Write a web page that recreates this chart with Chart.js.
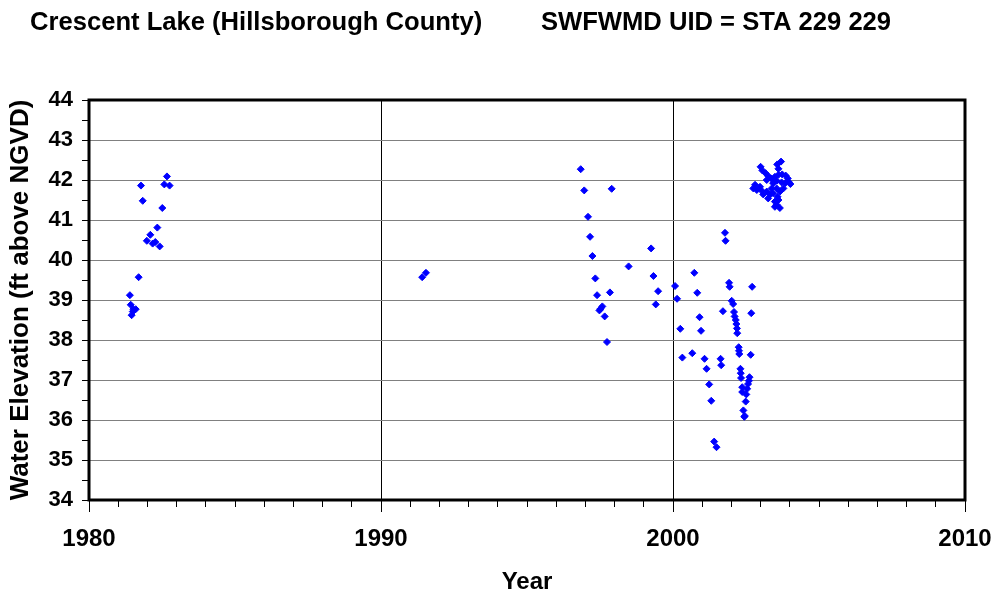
<!DOCTYPE html>
<html>
<head>
<meta charset="utf-8">
<script src="https://cdn.jsdelivr.net/npm/chart.js@4.4.0/dist/chart.umd.min.js"></script>
<style>
  html, body { margin: 0; padding: 0; background: #fff; }
  #wrap { width: 997px; height: 597px; }
</style>
</head>
<body>
<div id="wrap"><canvas id="lakeChart" width="997" height="597"></canvas></div>
<script>
// Crescent Lake water levels
const chartTitle = 'Crescent Lake (Hillsborough County)';
const chartSubtitle = 'SWFWMD UID = STA 229 229';
const xTitle = 'Year';
const yTitle = 'Water Elevation (ft above NGVD)';
const xMin = 1980, xMax = 2010;
const yMin = 34, yMax = 44;

// observation dates (decimal year)
const obsYear = [
    // early 80s
    1982.67, 1981.78, 1982.58, 1982.76, 1981.84, 1982.51, 1982.34, 1982.10, 1981.98, 1982.18,
    1982.27, 1982.42, 1981.70, 1981.40, 1981.43, 1981.52, 1981.60, 1981.50, 1981.46,
    // 1991
    1991.41, 1991.54,
    // late 90s
    1996.84, 1996.96, 1997.90, 1997.09, 1997.16, 1999.25, 1997.24, 1998.48, 1997.34, 1999.33,
    1997.40, 1997.84, 1999.49, 1999.41, 1997.58, 1997.52, 1997.48, 1997.66, 1997.74,
    // 2000 - 2002
    2001.78, 2001.80, 2000.73, 2000.07, 2000.83, 2001.92, 2001.94, 2002.71, 2000.14, 2002.01,
    2002.06, 2001.71, 2002.68, 2002.09, 2002.11, 2000.91, 2002.15, 2002.17, 2002.19, 2000.25,
    2000.96, 2002.20, 2002.25, 2002.26, 2002.27, 2002.66, 2000.32, 2000.66, 2001.08, 2001.63,
    2001.65, 2001.15, 2002.31, 2002.32, 2002.33, 2002.62, 2002.60, 2002.57, 2001.24, 2002.37,
    2002.54, 2002.37, 2002.51, 2001.31, 2002.49, 2002.41, 2002.46, 2002.44, 2001.41, 2001.49,
    // 2003 - 2004
    2003.70, 2003.57, 2003.61, 2003.00, 2003.06, 2003.17, 2003.26, 2003.21, 2003.36, 2003.49,
    2003.61, 2003.74, 2003.86, 2003.93, 2003.95, 2003.84, 2003.72, 2003.55, 2003.43, 2002.81,
    2002.75, 2002.87, 2002.98, 2003.04, 2003.09, 2003.26, 2003.38, 2003.43, 2003.55, 2003.66,
    2003.58, 2003.49, 2003.61, 2003.55, 2003.49, 2003.66, 2003.33, 2003.21, 2003.78, 2004.02
];

// water elevation, ft above NGVD
const obsElev = [
    42.09, 41.86, 41.89, 41.86, 41.48, 41.30, 40.81, 40.63, 40.48, 40.41,
    40.45, 40.34, 39.57, 39.12, 38.88, 38.77, 38.77, 38.71, 38.62,
    39.57, 39.68,
    42.27, 41.74, 41.78, 41.08, 40.58, 40.29, 40.10, 39.84, 39.54, 39.60,
    39.12, 39.19, 39.22, 38.89, 38.84, 38.78, 38.74, 38.59, 37.95,
    40.68, 40.48, 39.68, 39.35, 39.18, 39.43, 39.33, 39.33, 39.03, 38.98,
    38.90, 38.72, 38.67, 38.70, 38.59, 38.57, 38.50, 38.40, 38.29, 38.28,
    38.23, 38.17, 37.82, 37.73, 37.65, 37.63, 37.56, 37.67, 37.53, 37.53,
    37.37, 37.28, 37.28, 37.17, 37.05, 37.07, 36.98, 36.90, 36.89, 36.82,
    36.78, 36.70, 36.64, 36.48, 36.46, 36.24, 36.10, 36.08, 35.46, 35.32,
    42.46, 42.39, 42.28, 42.33, 42.24, 42.17, 42.10, 42.00, 42.04, 42.08,
    42.13, 42.14, 42.11, 42.04, 41.96, 41.92, 41.94, 41.98, 41.92, 41.88,
    41.79, 41.75, 41.83, 41.73, 41.64, 41.54, 41.79, 41.67, 41.79, 41.71,
    41.58, 41.46, 41.50, 41.38, 41.33, 41.30, 41.64, 41.71, 41.79, 41.90
];

const points = obsYear.map((yr, i) => ({ x: yr, y: obsElev[i] }));
const FONT = "'Liberation Sans', Arial, sans-serif";

// frame round the plot, longer decade ticks, and the heading text
const framePlugin = {
    id: 'frame',
    afterDraw(chart) {
        const c = chart.ctx;
        const a = chart.chartArea;
        const xs = chart.scales.x;
        c.save();
        c.strokeStyle = '#000';
        c.lineWidth = 1;
        for (let v = xMin; v <= xMax; v += 10) {
            const px = Math.round(xs.getPixelForValue(v)) + 0.5;
            c.beginPath();
            c.moveTo(px, a.bottom);
            c.lineTo(px, a.bottom + 12);
            c.stroke();
        }
        c.lineWidth = 3;
        c.strokeRect(a.left, a.top, a.right - a.left, a.bottom - a.top);
        c.fillStyle = '#000';
        c.font = 'bold 25.6px ' + FONT;
        c.textBaseline = 'alphabetic';
        c.textAlign = 'left';
        c.fillText(chartTitle, 30, 30);
        c.fillText(chartSubtitle, 541, 30);
        c.restore();
    }
};

const ctx = document.getElementById('lakeChart').getContext('2d');
const lakeChart = new Chart(ctx, {
    type: 'scatter',
    data: {
        datasets: [{
            label: 'Water Elevation',
            data: points,
            pointStyle: 'rectRot',
            pointRadius: 3.5,
            pointBorderWidth: 1,
            backgroundColor: '#0000ff',
            borderColor: '#0000ff'
        }]
    },
    options: {
        responsive: false,
        animation: false,
        devicePixelRatio: 1,
        layout: { padding: { top: 100, right: 32, bottom: 0, left: 0 } },
        plugins: {
            legend: { display: false },
            tooltip: { enabled: false }
        },
        scales: {
            x: {
                type: 'linear',
                min: xMin,
                max: xMax,
                afterFit: function(scale) {
                    scale.height = 97;
                    scale.paddingLeft = 0;
                    scale.paddingRight = 0;
                },
                ticks: {
                    stepSize: 1,
                    autoSkip: false,
                    maxRotation: 0,
                    padding: 18,
                    color: '#000',
                    font: { family: FONT, size: 24, weight: 'bold' },
                    callback: v => (v % 10 === 0 ? String(v) : '')
                },
                grid: {
                    color: c => (c.tick && c.tick.value % 10 === 0 ? '#000' : 'rgba(0,0,0,0)'),
                    tickColor: '#000',
                    tickLength: 7,
                    lineWidth: 1
                },
                border: { display: false },
                title: {
                    display: true,
                    text: xTitle,
                    color: '#000',
                    font: { family: FONT, size: 24, weight: 'bold' },
                    padding: { top: 0, bottom: 0 }
                }
            },
            y: {
                type: 'linear',
                min: yMin,
                max: yMax,
                afterFit: function(scale) {
                    scale.width = 89;
                    scale.paddingTop = 0;
                    scale.paddingBottom = 0;
                },
                ticks: {
                    stepSize: 0.5,
                    autoSkip: false,
                    padding: 9,
                    color: '#000',
                    font: { family: FONT, size: 22, weight: 'bold' },
                    callback: v => (Number.isInteger(v) ? String(v) : '')
                },
                grid: {
                    color: c => (c.tick && Number.isInteger(c.tick.value) ? '#808080' : 'rgba(0,0,0,0)'),
                    tickColor: '#000',
                    tickLength: 7,
                    lineWidth: 1
                },
                border: { display: false },
                title: {
                    display: true,
                    text: yTitle,
                    color: '#000',
                    font: { family: FONT, size: 26, weight: 'bold' },
                    padding: { top: 5, bottom: 0 }
                }
            }
        }
    },
    plugins: [framePlugin]
});
</script>
</body>
</html>
